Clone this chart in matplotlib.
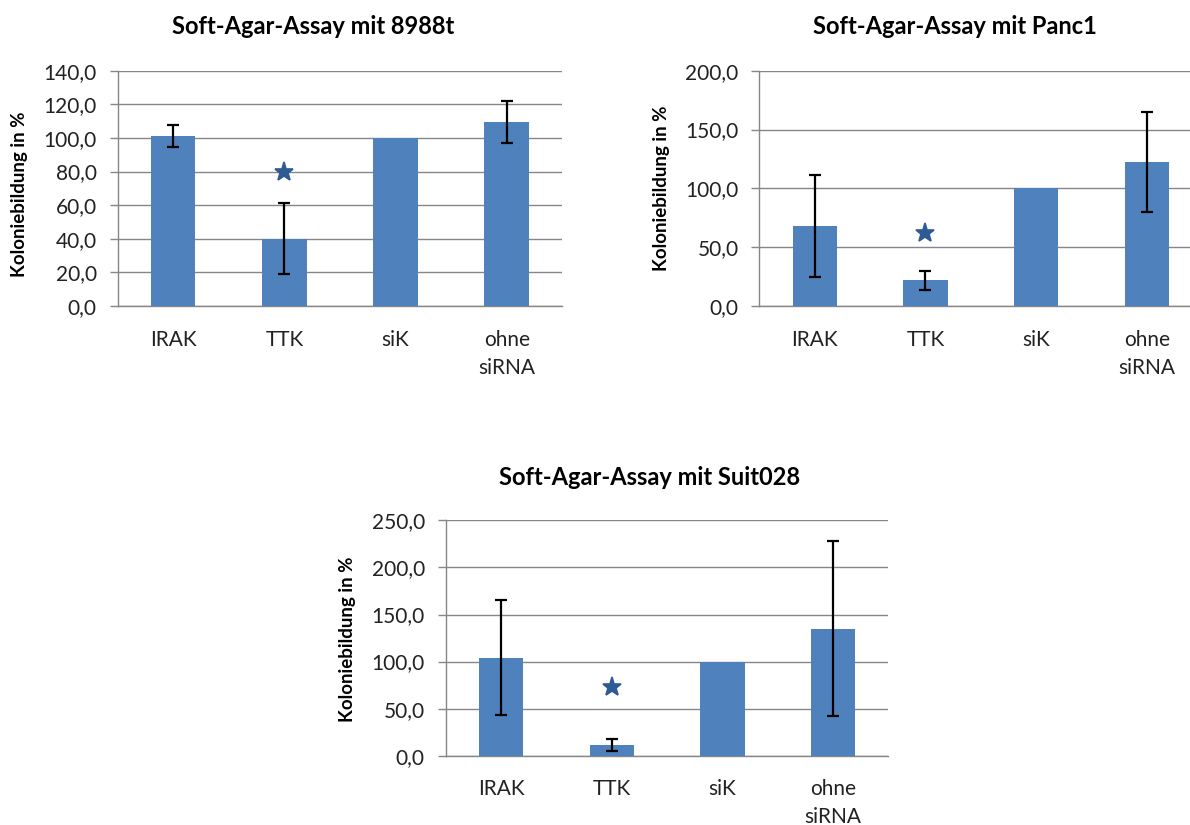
import numpy as np
import matplotlib
matplotlib.use("Agg")
import matplotlib.pyplot as plt

plt.rcParams['font.family'] = ['Lato', 'DejaVu Sans']

# categories
cats = ["IRAK", "TTK", "siK", "ohne\nsiRNA"]

# 8988t
vals_8988 = [101.0, 40.0, 100.0, 109.5]
err_8988 = [6.5, 21.0, 0.0, 12.5]
star_8988 = 79.5

# Panc1
vals_panc = [68.0, 22.0, 100.0, 122.0]
err_panc = [43.0, 8.0, 0.0, 42.5]
star_panc = 62.0

# Suit028
vals_suit = [104.0, 11.5, 100.0, 135.0]
err_suit = [61.0, 6.5, 0.0, 93.0]
star_suit = 72.5

bar_col = "#4F81BD"
grid_col = "#868686"
star_col = "#2F5B95"

fig = plt.figure(figsize=(11.9, 8.25), dpi=100)


def panel(rect, vals, errs, star, ymax, step, title, title_xy, ylab_xy):
    ax = fig.add_axes(rect)
    x = np.arange(len(cats))
    ax.bar(x, vals, width=0.4, color=bar_col, zorder=3)
    # the control (siK) has no error bar
    has_err = np.array(errs) > 0
    ax.errorbar(x[has_err], np.array(vals)[has_err], yerr=np.array(errs)[has_err],
                fmt='none', ecolor='black', elinewidth=1.6, capsize=4,
                capthick=1.6, zorder=4)
    ax.plot([1], [star], marker='*', markersize=14, color=star_col,
            markeredgewidth=1.2, linestyle='none', zorder=5)
    ax.set_xlim(-0.5, 3.5)
    ax.set_ylim(0, ymax)
    ticks = np.arange(0, ymax + step / 2, step)
    ax.set_yticks(ticks)
    ax.set_yticklabels([f"{t:.1f}".replace('.', ',') for t in ticks])
    ax.set_xticks(x)
    ax.set_xticklabels(cats, linespacing=1.5)
    ax.yaxis.grid(True, color=grid_col, linewidth=1.0, zorder=0)
    ax.set_axisbelow(True)
    for s in ['top', 'right']:
        ax.spines[s].set_visible(False)
    for s in ['left', 'bottom']:
        ax.spines[s].set_color(grid_col)
        ax.spines[s].set_linewidth(1.0)
    ax.tick_params(axis='y', length=6, color=grid_col, width=1.0,
                   labelsize=15, labelcolor='#222222', pad=9)
    ax.tick_params(axis='x', length=0, labelsize=15, labelcolor='#222222', pad=17)
    fig.text(title_xy[0], title_xy[1], title, ha='center', va='center',
             fontsize=17, fontweight='bold')
    fig.text(ylab_xy[0], ylab_xy[1], "Koloniebildung in %", ha='center',
             va='center', rotation=90, fontsize=13.5, fontweight='bold')
    return ax


panel([0.0989, 0.6291, 0.3736, 0.2852], vals_8988, err_8988, star_8988,
      140, 20, "Soft-Agar-Assay mit 8988t", (0.2634, 0.9673), (0.0168, 0.7648))
panel([0.6381, 0.6291, 0.3721, 0.2852], vals_panc, err_panc, star_panc,
      200, 50, "Soft-Agar-Assay mit Panc1", (0.8022, 0.9673), (0.5555, 0.7721))
panel([0.3745, 0.0840, 0.3721, 0.2852], vals_suit, err_suit, star_suit,
      250, 50, "Soft-Agar-Assay mit Suit028", (0.5462, 0.4218), (0.2916, 0.2255))

fig.savefig("out.png", dpi=100)
